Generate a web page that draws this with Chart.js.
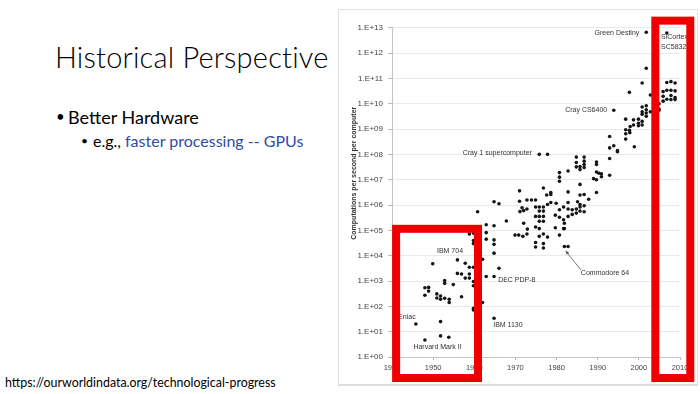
<!DOCTYPE html>
<html>
<head>
<meta charset="utf-8">
<script src="https://cdn.jsdelivr.net/npm/chart.js@4.4.1/dist/chart.umd.min.js"></script>
<style>
  html, body { margin: 0; padding: 0; background: #fff; }
  body { width: 700px; height: 394px; position: relative; overflow: hidden; font-family: Lato, "Open Sans", sans-serif; }
  .txt { position: absolute; white-space: nowrap; color: #000; line-height: 1; }
  #title { left: 55px; top: 42px; font-size: 29px; font-weight: 300; letter-spacing: 0.2px; }
  #b1 { left: 56px; top: 109px; font-size: 15px; }
  #t1 { left: 68px; top: 108px; font-size: 18px; }
  #b2 { left: 81px; top: 135px; font-size: 12px; }
  #t2 { left: 93px; top: 133px; font-size: 16px; }
  #t2 span { color: #2f4ca6; }
  #src { left: 5px; top: 377px; font-size: 12.4px; }
  #frame { position: absolute; left: 338px; top: 9px; width: 358px; height: 374px; border: 1px solid #e2e2e2; border-bottom: 2px solid #dcdcdc; }
  #chartBox { position: absolute; left: 340px; top: 10px; width: 355px; height: 375px; }
</style>
</head>
<body>
<div class="txt" id="title">Historical Perspective</div>
<div class="txt" id="b1">•</div>
<div class="txt" id="t1">Better Hardware</div>
<div class="txt" id="b2">•</div>
<div class="txt" id="t2">e.g., <span>faster processing -- GPUs</span></div>
<div class="txt" id="src">https://ourworldindata.org/technological-progress</div>
<div id="frame"></div>
<div id="chartBox"><canvas id="chart"></canvas></div>

<script>
// points: [year, computations per second]
const pointsEarly = [
    [1945.8, 20], [1948.0, 4.7], [1951.8, 6.8], [1953.8, 6.0], [1951.8, 25],
    [1948.0, 540], [1948.9, 560], [1948.0, 275], [1948.9, 400], [1950.9, 310],
    [1951.8, 257], [1952.8, 209], [1953.9, 190], [1950.9, 214], [1951.8, 190],
    [1953.9, 141], [1956.9, 240], [1952.8, 1050], [1952.8, 810], [1954.9, 720],
    [1949.9, 4800], [1955.9, 6800], [1957.8, 5000], [1958.8, 3500], [1959.8, 3500],
    [1955.9, 2000], [1956.9, 1900], [1957.8, 1300], [1958.8, 1900], [1958.8, 1300],
    [1959.8, 950], [1959.8, 650], [1959.8, 83], [1959.8, 72], [1958.8, 72000],
    [1959.8, 78000], [1959.8, 40000], [1959.8, 30000], [1962.9, 166000], [1962.9, 81000],
    [1962.9, 45000], [1962.9, 1500], [1964.8, 151000], [1964.8, 42000], [1964.8, 28000],
    [1964.8, 12600], [1964.8, 1500], [1964.8, 34], [1964.8, 1350000], [1966.0, 3200],
    [1966.0, 1120000], [1960.8, 540000], [1962.0, 7200], [1962.0, 141]
];

const pointsMiddle = [
    [1967.8, 234000], [1971.0, 3630000], [1971.0, 1410000], [1972.8, 1580000], [1973.9, 1580000],
    [1974.9, 1580000], [1971.6, 776000], [1972.8, 692000], [1972.0, 603000], [1971.1, 550000],
    [1974.9, 832000], [1975.8, 832000], [1975.8, 575000], [1976.8, 832000], [1976.8, 575000],
    [1977.8, 1050000], [1978.6, 1260000], [1979.9, 1170000], [1980.7, 646000], [1981.7, 832000],
    [1982.8, 1260000], [1982.8, 692000], [1983.8, 646000], [1984.8, 692000], [1985.7, 832000],
    [1986.7, 933000], [1985.7, 575000], [1984.8, 479000], [1983.8, 427000], [1982.8, 355000],
    [1981.7, 263000], [1980.7, 331000], [1979.7, 398000], [1972.0, 191000], [1972.9, 112000],
    [1972.8, 72000], [1969.9, 65000], [1970.8, 65000], [1971.8, 58000], [1974.9, 355000],
    [1975.8, 355000], [1976.8, 355000], [1975.8, 229000], [1976.8, 229000], [1974.9, 135000],
    [1975.8, 117000], [1976.8, 72000], [1975.8, 58000], [1977.8, 54000], [1974.9, 33000],
    [1974.9, 22000], [1976.8, 30000], [1976.8, 20000], [1979.7, 126000], [1980.7, 65000],
    [1981.7, 117000], [1981.9, 23000], [1982.8, 23000], [1975.8, 1.0e8], [1977.8, 1.0e8],
    [1976.8, 4.7e6], [1978.6, 3.1e6], [1978.6, 2.6e6], [1977.6, 2.5e6], [1980.7, 1.9e7],
    [1980.7, 1.26e7], [1980.7, 8.7e6], [1982.8, 2.2e7], [1984.8, 7.8e7], [1984.8, 4.8e7],
    [1984.8, 3.2e7], [1985.7, 2.5e7], [1985.7, 3.3e7], [1986.7, 7.8e7], [1986.7, 5.4e7],
    [1986.7, 4.0e7], [1986.7, 3.0e7], [1989.7, 5.0e7], [1989.7, 4.0e7], [1989.7, 2.0e7],
    [1990.3, 1.8e7], [1990.9, 1.7e7], [1990.9, 1.3e7], [1989.0, 1.1e7], [1989.7, 1.0e7],
    [1992.9, 1.5e7], [1985.7, 6.5e6], [1982.8, 3.3e6], [1986.7, 2.6e6], [1985.7, 2.5e6],
    [1987.8, 1.7e6], [1989.7, 3.1e6], [1985.1, 1.35e6], [1985.7, 1.05e6], [1986.7, 540000],
    [1981.9, 190000], [1981.9, 117000]
];

const pointsLate = [
    [1992.9, 5.1e8], [1996.8, 6.5e8], [1997.8, 7.2e8], [1996.8, 4.0e8], [1998.9, 2.0e8],
    [1992.9, 1.8e8], [1993.9, 2.2e8], [1994.8, 1.4e8], [1994.8, 1.26e8], [1992.9, 6.9e7],
    [1996.8, 2.45e9], [1998.7, 2.3e9], [1999.9, 2.45e9], [1999.9, 1.7e9], [2000.8, 2.0e9],
    [2000.8, 1.45e9], [1997.9, 1.26e9], [1998.7, 1.45e9], [1999.9, 1.35e9], [1997.7, 8.9e8],
    [1996.8, 9.3e8], [1993.9, 5.5e9], [2000.8, 7.4e9], [2001.8, 8.3e9], [2001.8, 5.8e9],
    [2000.8, 4.8e9], [2000.8, 3.8e9], [2001.8, 4.3e9], [2001.8, 3.2e9], [2002.8, 4.8e9],
    [1997.7, 2.8e10], [2000.8, 6.6e10], [2001.8, 2.5e11], [2001.8, 6.6e12], [2002.8, 2.2e10],
    [2006.8, 6.9e10], [2007.8, 7.4e10], [2008.8, 6.6e10], [2005.9, 3.0e10], [2006.8, 3.4e10],
    [2007.8, 3.4e10], [2008.8, 3.2e10], [2005.9, 1.95e10], [2007.8, 2.1e10], [2008.8, 1.74e10],
    [2006.8, 1.5e10], [2007.8, 1.45e10], [2008.8, 1.45e10], [2005.9, 1.26e10], [2004.9, 1.0e10],
    [2004.9, 6.2e9], [2004.9, 5.5e9], [2006.8, 6.2e12]
];

const xTicks = [1940, 1950, 1960, 1970, 1980, 1990, 2000, 2010];
const yTicks = [1e0, 1e1, 1e2, 1e3, 1e4, 1e5, 1e6, 1e7, 1e8, 1e9, 1e10, 1e11, 1e12, 1e13];
const yTickLabels = ['1.E+00', '1.E+01', '1.E+02', '1.E+03', '1.E+04', '1.E+05', '1.E+06',
    '1.E+07', '1.E+08', '1.E+09', '1.E+10', '1.E+11', '1.E+12', '1.E+13'];
const yTitle = 'Computations per second per computer';

// machine labels, anchored in data space (year, value)
const machineLabels = [
    { text: 'Green Destiny', x: 2000.1, y: 5.9e12, align: 'right' },
    { text: 'SiCortex', x: 2005.4, y: 4.1e12, align: 'left' },
    { text: 'SC5832', x: 2005.4, y: 1.66e12, align: 'left' },
    { text: 'Cray CS6400', x: 1992.3, y: 5.5e9, align: 'right' },
    { text: 'Cray 1 supercomputer', x: 1974.0, y: 1.12e8, align: 'right' },
    { text: 'IBM 704', x: 1954.1, y: 15500, align: 'center' },
    { text: 'DEC PDP-8', x: 1965.8, y: 1050, align: 'left' },
    { text: 'Commodore 64', x: 1985.9, y: 2100, align: 'left' },
    { text: 'IBM 1130', x: 1964.6, y: 18, align: 'left' },
    { text: 'Eniac', x: 1941.5, y: 39, align: 'left' },
    { text: 'Harvard Mark II', x: 1945.2, y: 2.4, align: 'left' }
];

// red highlight boxes, in data space
const highlightBoxes = [
    { x1: 1941.0, x2: 1960.9, yTop: 1.15e5, yBottom: 0.148 },
    { x1: 2004.0, x2: 2012.5, yTop: 1.9e13, yBottom: 0.148 }
];

const overlayPlugin = {
    id: 'overlay',
    afterDraw(chart) {
        const ctx = chart.ctx;
        const x = chart.scales.x;
        const y = chart.scales.y;

        ctx.save();
        // axis title
        ctx.translate(14, y.getPixelForValue(1.8e7));
        ctx.rotate(-Math.PI / 2);
        ctx.font = 'bold 7px "Liberation Sans", Arial, sans-serif';
        ctx.fillStyle = '#333';
        ctx.textAlign = 'center';
        ctx.textBaseline = 'middle';
        ctx.fillText(yTitle, 0, 0);
        ctx.restore();

        ctx.save();
        ctx.font = '7px "Liberation Sans", Arial, sans-serif';
        ctx.fillStyle = '#333';
        ctx.textBaseline = 'middle';
        machineLabels.forEach(l => {
            ctx.textAlign = l.align;
            ctx.fillText(l.text, x.getPixelForValue(l.x), y.getPixelForValue(l.y));
        });

        // Commodore 64 pointer
        const ax = x.getPixelForValue(1985.9), ay = y.getPixelForValue(2750);
        const bx = x.getPixelForValue(1982.2), by = y.getPixelForValue(15500);
        ctx.strokeStyle = '#555';
        ctx.lineWidth = 0.8;
        ctx.beginPath();
        ctx.moveTo(ax, ay);
        ctx.lineTo(bx, by);
        ctx.stroke();
        const ang = Math.atan2(by - ay, bx - ax);
        ctx.fillStyle = '#555';
        ctx.beginPath();
        ctx.moveTo(bx, by);
        ctx.lineTo(bx - 4 * Math.cos(ang - 0.4), by - 4 * Math.sin(ang - 0.4));
        ctx.lineTo(bx - 4 * Math.cos(ang + 0.4), by - 4 * Math.sin(ang + 0.4));
        ctx.closePath();
        ctx.fill();

        // red boxes on top
        ctx.strokeStyle = '#ee0000';
        ctx.lineWidth = 8;
        highlightBoxes.forEach(b => {
            const left = x.getPixelForValue(b.x1);
            const right = x.getPixelForValue(b.x2);
            const top = y.getPixelForValue(b.yTop);
            const bottom = y.getPixelForValue(b.yBottom);
            ctx.strokeRect(left, top, right - left, bottom - top);
        });
        ctx.restore();
    }
};

const ctx = document.getElementById('chart').getContext('2d');
new Chart(ctx, {
    type: 'scatter',
    data: {
        datasets: [{
            data: pointsEarly.concat(pointsMiddle, pointsLate).map(p => ({ x: p[0], y: p[1] })),
            backgroundColor: '#151515',
            borderWidth: 0,
            pointRadius: 1.8
        }]
    },
    options: {
        responsive: true,
        maintainAspectRatio: false,
        animation: false,
        layout: { padding: { top: 17.7, right: 15, bottom: 0, left: 0 } },
        plugins: {
            legend: { display: false },
            tooltip: { enabled: false }
        },
        scales: {
            x: {
                type: 'linear',
                min: 1940,
                max: 2010,
                afterBuildTicks: s => { s.ticks = xTicks.map(v => ({ value: v })); },
                afterFit: s => { s.height = 28; },
                ticks: {
                    autoSkip: false,
                    maxRotation: 0,
                    padding: 3,
                    color: '#444',
                    font: { family: '"Liberation Sans", Arial, sans-serif', size: 7.5 },
                    callback: v => String(v)
                },
                grid: { drawOnChartArea: false, drawTicks: true, tickLength: 3, tickColor: '#bbb' },
                border: { color: '#c4c4c4' }
            },
            y: {
                type: 'logarithmic',
                min: 1,
                max: 1e13,
                afterBuildTicks: s => { s.ticks = yTicks.map(v => ({ value: v })); },
                afterFit: s => { s.width = 52; },
                ticks: {
                    autoSkip: false,
                    padding: 5,
                    color: '#444',
                    font: { family: '"Liberation Sans", Arial, sans-serif', size: 8 },
                    callback: (v, i) => yTickLabels[i]
                },
                grid: { color: '#e9e9e9', tickLength: 4, tickColor: '#bbb' },
                border: { color: '#c4c4c4' }
            }
        }
    },
    plugins: [overlayPlugin]
});
</script>
</body>
</html>
